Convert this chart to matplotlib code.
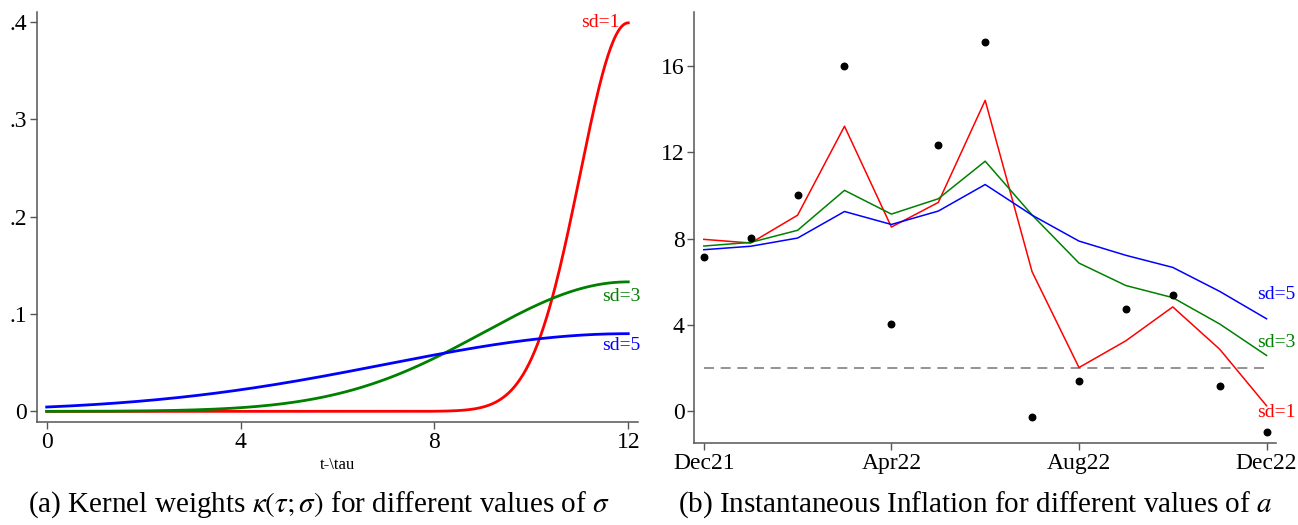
import numpy as np
import matplotlib
matplotlib.use("Agg")
import matplotlib.pyplot as plt

# ---------------- DATA ----------------
# panel (a): gaussian kernel weights, centred on t-tau = 12
kernel_center = 12
kernel_sds = [1, 3, 5]
kernel_colors = ["#ff0000", "#008000", "#0000ff"]
kernel_labels = ["sd=1", "sd=3", "sd=5"]

# panel (b): monthly inflation, Dec21 .. Dec22
months = list(range(13))
month_ticks = [0, 4, 8, 12]
month_labels = ["Dec21", "Apr22", "Aug22", "Dec22"]
observed = [7.14, 8.03, 10.02, 15.98, 4.05, 12.35, 17.11, -0.25, 1.42, 4.73, 5.40, 1.16, -0.97]
inst_sd1 = [7.97, 7.80, 9.09, 13.21, 8.54, 9.68, 14.41, 6.47, 2.03, 3.27, 4.84, 2.88, 0.26]
inst_sd3 = [7.66, 7.83, 8.39, 10.24, 9.14, 9.85, 11.59, 9.10, 6.87, 5.83, 5.27, 4.05, 2.59]
inst_sd5 = [7.49, 7.65, 8.03, 9.26, 8.66, 9.28, 10.51, 9.09, 7.89, 7.23, 6.67, 5.56, 4.29]
target = 2.0
# ----------------------------------------

plt.rcParams["font.family"] = ["Liberation Serif", "DejaVu Serif"]
plt.rcParams["mathtext.fontset"] = "stix"

fig = plt.figure(figsize=(12.98, 5.25), dpi=100)
ax1 = fig.add_axes([0.0285, 0.196, 0.463, 0.781])
ax2 = fig.add_axes([0.535, 0.156, 0.448, 0.821])

spine_col = "#555555"
for ax in (ax1, ax2):
    ax.spines["top"].set_visible(False)
    ax.spines["right"].set_visible(False)
    for s in ("left", "bottom"):
        ax.spines[s].set_color(spine_col)
        ax.spines[s].set_linewidth(1.1)
    ax.tick_params(direction="out", length=5, width=1.0, color=spine_col,
                   labelsize=17, pad=2)

# -------- panel (a) --------
x = np.linspace(0, 12, 400)
for sd, col in zip(kernel_sds, kernel_colors):
    w = np.exp(-0.5 * ((x - kernel_center) / sd) ** 2) / (sd * np.sqrt(2 * np.pi))
    ax1.plot(x, w, color=col, lw=2.0)

ax1.text(11.82, 0.399, kernel_labels[0], color=kernel_colors[0], fontsize=14, ha="right", va="center")
ax1.text(12.25, 0.118, kernel_labels[1], color=kernel_colors[1], fontsize=14, ha="right", va="center")
ax1.text(12.25, 0.068, kernel_labels[2], color=kernel_colors[2], fontsize=14, ha="right", va="center")

ax1.set_xlim(-0.2, 12.2)
ax1.set_ylim(-0.011, 0.41)
ax1.set_xticks([0, 4, 8, 12])
ax1.set_yticks([0, 0.1, 0.2, 0.3, 0.4])
ax1.set_yticklabels(["0", ".1", ".2", ".3", ".4"])
ax1.set_xlabel(r"t-\tau", fontsize=12, labelpad=3)

# -------- panel (b) --------
ax2.plot([months[0], months[-1]], [target, target], color="#808080", lw=1.2, ls=(0, (6, 4)))
ax2.plot(months, inst_sd1, color="#ff0000", lw=1.1)
ax2.plot(months, inst_sd3, color="#008000", lw=1.1)
ax2.plot(months, inst_sd5, color="#0000ff", lw=1.1)
ax2.scatter(months, observed, color="black", s=22, zorder=5)

ax2.text(12.62, 5.4, "sd=5", color="#0000ff", fontsize=14, ha="right", va="center")
ax2.text(12.62, 3.2, "sd=3", color="#008000", fontsize=14, ha="right", va="center")
ax2.text(12.62, -0.05, "sd=1", color="#ff0000", fontsize=14, ha="right", va="center")

ax2.set_xlim(-0.2, 12.2)
ax2.set_ylim(-1.47, 18.5)
ax2.set_xticks(month_ticks)
ax2.set_xticklabels(month_labels)
ax2.set_yticks([0, 4, 8, 12, 16])

# -------- captions --------
fig.text(0.246, 0.038, r"(a) Kernel weights $\kappa(\tau;\sigma)$ for different values of $\sigma$",
         ha="center", va="center", fontsize=21)
fig.text(0.751, 0.038, r"(b) Instantaneous Inflation for different values of $a$",
         ha="center", va="center", fontsize=21)

fig.savefig("out.png", dpi=100)
